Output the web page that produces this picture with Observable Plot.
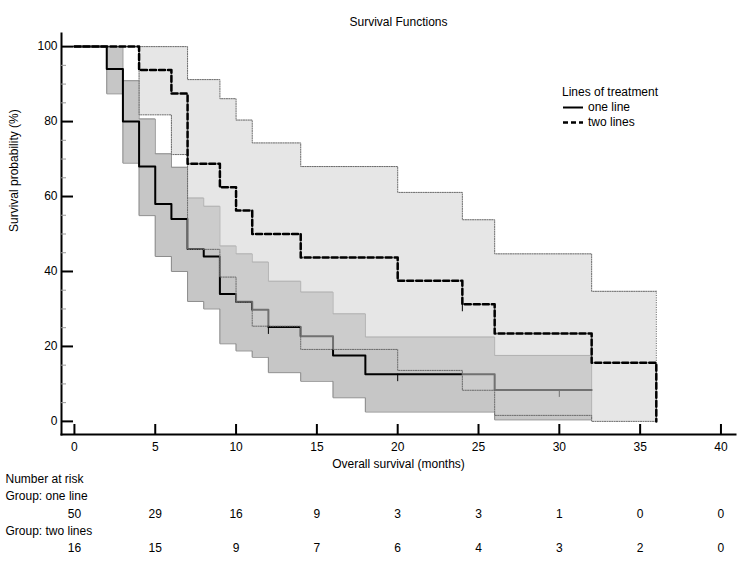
<!DOCTYPE html>
<html>
<head>
<meta charset="utf-8">
<script src="https://cdn.jsdelivr.net/npm/d3@7"></script>
<script src="https://cdn.jsdelivr.net/npm/@observablehq/plot@0.6"></script>
<style>
  html, body { margin: 0; padding: 0; background: #fff; }
  #wrap { position: relative; width: 750px; height: 563px; font-family: "Liberation Sans", Arial, sans-serif; font-size: 12px; color: #000; }
  #legend { position: absolute; left: 562px; top: 85px; line-height: 15px; }
  #legend .row { display: flex; align-items: center; height: 15px; }
  #legend svg { width: 24px; height: 15px; margin-right: 2px; }
</style>
</head>
<body>
<div id="wrap">
  <div id="chart"></div>
  <div id="legend">
    <div class="row" id="legend-title"></div>
    <div class="row"><svg><line x1="1" x2="21" y1="7.5" y2="7.5" stroke="#000" stroke-width="2"/></svg><span id="lg1"></span></div>
    <div class="row"><svg><line x1="1" x2="21" y1="7.5" y2="7.5" stroke="#000" stroke-width="2.5" stroke-dasharray="5,3"/></svg><span id="lg2"></span></div>
  </div>
</div>
<script>
// Kaplan-Meier estimates (%) with 95% confidence limits, by lines of treatment
const groupNames = ["one line", "two lines"];
const legendTitle = "Lines of treatment";

const oneTimes = [0, 2, 3, 4, 5, 6, 7, 8, 9, 10, 11, 12, 14, 16, 18, 26, 32];
const oneSurv  = [100, 94, 80, 68, 58, 54, 46, 44, 34, 31.9, 29.8, 25.2, 22.7, 17.6, 12.6, 8.4, 8.4];
const oneLower = [100, 87.4, 68.9, 54.9, 44, 40, 32, 30, 20.7, 18.8, 17.1, 13, 10.7, 6.3, 2.5, 0.4, 0.4];
const oneUpper = [100, 100, 90.9, 80.7, 71.4, 67.8, 59.6, 57.4, 46.8, 44.7, 42.5, 37.4, 34.5, 28.7, 22.5, 17.6, 17.6];

const twoTimes = [0, 4, 6, 7, 9, 10, 11, 14, 20, 24, 26, 32, 36];
const twoSurv  = [100, 93.75, 87.5, 68.75, 62.5, 56.25, 50, 43.75, 37.5, 31.25, 23.44, 15.63, 0];
const twoLower = [100, 81.8, 71.2, 45.9, 38.5, 31.8, 25.4, 19.2, 13.6, 8.3, 1.6, 0, 0];
const twoUpper = [100, 100, 100, 91.2, 86.1, 80.4, 74.3, 68, 61.1, 53.8, 44.7, 34.7, 34.7];

// censored observations
const oneCensTimes = [12, 20, 30];
const oneCensSurv  = [25.2, 12.6, 8.4];
const twoCensTimes = [24];
const twoCensSurv  = [31.25];

// number at risk table
const riskTimes = [0, 5, 10, 15, 20, 25, 30, 35, 40];
const riskOne   = [50, 29, 16, 9, 3, 3, 1, 0, 0];
const riskTwo   = [16, 15, 9, 7, 6, 4, 3, 2, 0];

const xTicks = [0, 5, 10, 15, 20, 25, 30, 35, 40];
const yTicks = [0, 20, 40, 60, 80, 100];
const yMinorTicks = [5, 10, 15, 25, 30, 35, 45, 50, 55, 65, 70, 75, 85, 90, 95];

const title = "Survival Functions";
const xLabel = "Overall survival (months)";
const yLabel = "Survival probability (%)";

const rows = (t, s, lo, hi) => t.map((v, i) => ({t: v, s: s[i], lo: lo[i], hi: hi[i]}));
const one = rows(oneTimes, oneSurv, oneLower, oneUpper);
const two = rows(twoTimes, twoSurv, twoLower, twoUpper);
const oneCens = oneCensTimes.map((t, i) => ({t, s: oneCensSurv[i]}));
const twoCens = twoCensTimes.map((t, i) => ({t, s: twoCensSurv[i]}));
const riskA = riskTimes.map((t, i) => ({t, n: riskOne[i]}));
const riskB = riskTimes.map((t, i) => ({t, n: riskTwo[i]}));

const step = "step-after";

const chart = Plot.plot({
  width: 750,
  height: 563,
  marginLeft: 61,
  marginRight: 15,
  marginTop: 33,
  marginBottom: 129,
  style: {fontFamily: "'Liberation Sans', Arial, sans-serif", fontSize: "12px", color: "#000", background: "#fff"},
  x: {domain: [-0.8, 40.9]},
  y: {domain: [-3.5, 103.5]},
  marks: [
    // one line: confidence band, curve, censor marks
    Plot.areaY(one, {x: "t", y1: "lo", y2: "hi", curve: step, fill: "#c6c6c6"}),
    Plot.line(one, {x: "t", y: "lo", curve: step, stroke: "#8c8c8c", strokeWidth: 1}),
    Plot.line(one, {x: "t", y: "hi", curve: step, stroke: "#8c8c8c", strokeWidth: 1}),
    Plot.ruleX(one.slice(-1), {x: "t", y1: "lo", y2: "hi", stroke: "#8c8c8c", strokeWidth: 1}),
    Plot.line(one, {x: "t", y: "s", curve: step, stroke: "#000", strokeWidth: 2}),
    Plot.ruleX(oneCens, {x: "t", y1: "s", y2: d => d.s - 2, stroke: "#000", strokeWidth: 1}),

    // two lines: translucent confidence band over the first group
    Plot.areaY(two, {x: "t", y1: "lo", y2: "hi", curve: step, fill: "#d0d0d0", fillOpacity: 0.54}),
    Plot.line(two, {x: "t", y: "lo", curve: step, stroke: "#6a6a6a", strokeWidth: 1, strokeDasharray: "1.2,1.2"}),
    Plot.line(two, {x: "t", y: "hi", curve: step, stroke: "#6a6a6a", strokeWidth: 1, strokeDasharray: "1.2,1.2"}),
    Plot.ruleX(two.slice(-1), {x: "t", y1: "lo", y2: "hi", stroke: "#6a6a6a", strokeWidth: 1, strokeDasharray: "1.2,1.2"}),
    Plot.ruleX(twoCens, {x: "t", y1: "s", y2: d => d.s - 2, stroke: "#000", strokeWidth: 1}),
    Plot.line(two, {x: "t", y: "s", curve: step, stroke: "#000", strokeWidth: 2.5, strokeDasharray: "6,3"}),

    // axes: inward ticks, labels outside
    Plot.frame({anchor: "left", stroke: "#000", strokeWidth: 2}),
    Plot.frame({anchor: "bottom", stroke: "#000", strokeWidth: 2}),
    Plot.axisY({ticks: yMinorTicks, tickSize: -5, fill: "none", stroke: "#999", label: null}),
    Plot.axisY({ticks: yTicks, tickSize: -12, fill: "none", stroke: "#000", strokeWidth: 2, label: null}),
    Plot.axisY({ticks: yTicks, tickSize: 0, tickPadding: 4, stroke: "none", fill: "#000", label: null, fontSize: 12}),
    Plot.axisX({ticks: xTicks, tickSize: -10, fill: "none", stroke: "#000", strokeWidth: 2, label: null}),
    Plot.axisX({ticks: xTicks, tickSize: 0, tickPadding: 8, stroke: "none", fill: "#000", label: null, fontSize: 12}),

    // titles
    Plot.text([title], {frameAnchor: "top", dy: -16, fontSize: 12, fill: "#000"}),
    Plot.text([xLabel], {frameAnchor: "bottom", dy: 33, fontSize: 12, fill: "#000"}),
    Plot.text([yLabel], {frameAnchor: "left", dx: -47, dy: -2, rotate: -90, fontSize: 12, fill: "#000"}),

    // number at risk
    Plot.text(["Number at risk"], {frameAnchor: "bottom-left", dx: -56, dy: 48, textAnchor: "start", fontSize: 12, fill: "#000"}),
    Plot.text(["Group: " + groupNames[0]], {frameAnchor: "bottom-left", dx: -56, dy: 65.5, textAnchor: "start", fontSize: 12, fill: "#000"}),
    Plot.text(riskA, {x: "t", text: "n", frameAnchor: "bottom", dy: 83.5, fontSize: 12, fill: "#000"}),
    Plot.text(["Group: " + groupNames[1]], {frameAnchor: "bottom-left", dx: -56, dy: 100.5, textAnchor: "start", fontSize: 12, fill: "#000"}),
    Plot.text(riskB, {x: "t", text: "n", frameAnchor: "bottom", dy: 117, fontSize: 12, fill: "#000"})
  ]
});
document.getElementById("chart").appendChild(chart);
document.getElementById("legend-title").textContent = legendTitle;
document.getElementById("lg1").textContent = groupNames[0];
document.getElementById("lg2").textContent = groupNames[1];
</script>
</body>
</html>
